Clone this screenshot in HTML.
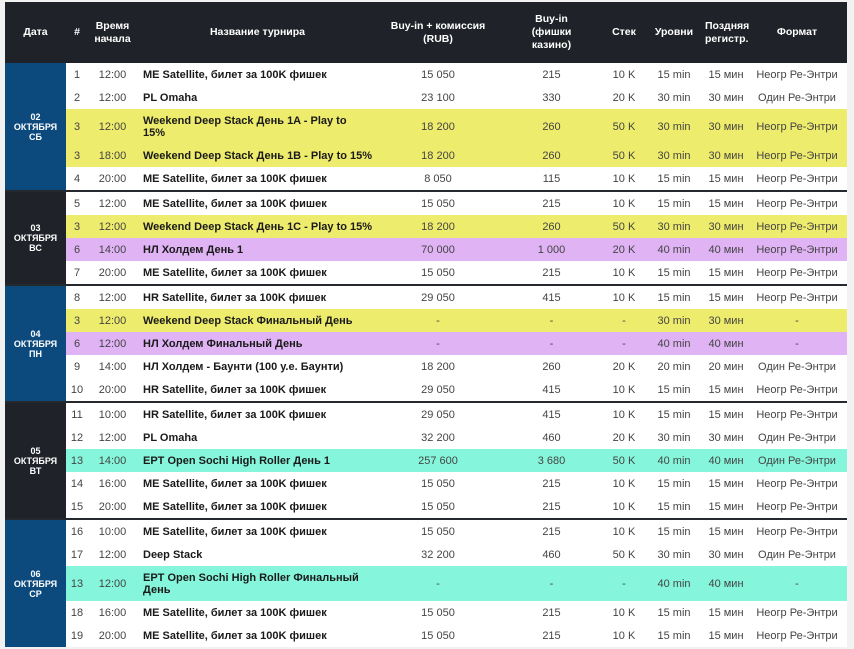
<!DOCTYPE html>
<html><head><meta charset="utf-8"><style>
html,body{margin:0;padding:0;background:#f2f2f2;width:854px;height:649px;overflow:hidden}
table{position:absolute;left:5px;top:2px;border-collapse:collapse;table-layout:fixed;width:842px;font-family:"Liberation Sans",sans-serif;font-size:11px;color:#444}
th{background:#1f2228;color:#fff;font-weight:bold;font-size:10.5px;height:61px;padding:0;line-height:13px;text-align:center}
td{padding:0;height:23px;text-align:center;background:#fff;white-space:nowrap}
tr.d td{height:35px}
td.n{text-align:left;padding-left:6px;color:#1a1a1a;font-weight:bold;white-space:normal;line-height:12px}
td.dt{color:#fff;font-weight:bold;font-size:9px;line-height:10px;background:#0c4a7d}
td.dk{background:#1f2228}
tr.y td{background:#eeec6c}
tr.p td{background:#e0b3f4}
tr.g td{background:#85f6dc}
tr.s td{border-top:2px solid #25282d}
</style></head><body>
<table>
<colgroup><col style="width:61px"><col style="width:22px"><col style="width:49px"><col style="width:241px"><col style="width:120px"><col style="width:107px"><col style="width:38px"><col style="width:62px"><col style="width:42px"><col style="width:100px"></colgroup>
<tr><th>Дата</th><th>#</th><th>Время<br>начала</th><th>Название турнира</th><th>Buy-in + комиссия<br>(RUB)</th><th>Buy-in<br>(фишки<br>казино)</th><th>Стек</th><th>Уровни</th><th>Поздняя<br>регистр.</th><th>Формат</th></tr>

<tr><td class="dt" rowspan="5">02<br>ОКТЯБРЯ<br>СБ</td><td>1</td><td>12:00</td><td class="n">ME Satellite, билет за 100K фишек</td><td>15 050</td><td>215</td><td>10 K</td><td>15 min</td><td>15 мин</td><td>Неогр Ре-Энтри</td></tr>
<tr><td>2</td><td>12:00</td><td class="n">PL Omaha</td><td>23 100</td><td>330</td><td>20 K</td><td>30 min</td><td>30 мин</td><td>Один Ре-Энтри</td></tr>
<tr class="y d"><td>3</td><td>12:00</td><td class="n">Weekend Deep Stack День 1A - Play to<br>15%</td><td>18 200</td><td>260</td><td>50 K</td><td>30 min</td><td>30 мин</td><td>Неогр Ре-Энтри</td></tr>
<tr class="y"><td>3</td><td>18:00</td><td class="n">Weekend Deep Stack День 1B - Play to 15%</td><td>18 200</td><td>260</td><td>50 K</td><td>30 min</td><td>30 мин</td><td>Неогр Ре-Энтри</td></tr>
<tr><td>4</td><td>20:00</td><td class="n">ME Satellite, билет за 100K фишек</td><td>8 050</td><td>115</td><td>10 K</td><td>15 min</td><td>15 мин</td><td>Неогр Ре-Энтри</td></tr>

<tr class="s"><td class="dt dk" rowspan="4">03<br>ОКТЯБРЯ<br>ВС</td><td>5</td><td>12:00</td><td class="n">ME Satellite, билет за 100K фишек</td><td>15 050</td><td>215</td><td>10 K</td><td>15 min</td><td>15 мин</td><td>Неогр Ре-Энтри</td></tr>
<tr class="y"><td>3</td><td>12:00</td><td class="n">Weekend Deep Stack День 1C - Play to 15%</td><td>18 200</td><td>260</td><td>50 K</td><td>30 min</td><td>30 мин</td><td>Неогр Ре-Энтри</td></tr>
<tr class="p"><td>6</td><td>14:00</td><td class="n">НЛ Холдем День 1</td><td>70 000</td><td>1 000</td><td>20 K</td><td>40 min</td><td>40 мин</td><td>Неогр Ре-Энтри</td></tr>
<tr><td>7</td><td>20:00</td><td class="n">ME Satellite, билет за 100K фишек</td><td>15 050</td><td>215</td><td>10 K</td><td>15 min</td><td>15 мин</td><td>Неогр Ре-Энтри</td></tr>

<tr class="s"><td class="dt" rowspan="5">04<br>ОКТЯБРЯ<br>ПН</td><td>8</td><td>12:00</td><td class="n">HR Satellite, билет за 100K фишек</td><td>29 050</td><td>415</td><td>10 K</td><td>15 min</td><td>15 мин</td><td>Неогр Ре-Энтри</td></tr>
<tr class="y"><td>3</td><td>12:00</td><td class="n">Weekend Deep Stack Финальный День</td><td>-</td><td>-</td><td>-</td><td>30 min</td><td>30 мин</td><td>-</td></tr>
<tr class="p"><td>6</td><td>12:00</td><td class="n">НЛ Холдем Финальный День</td><td>-</td><td>-</td><td>-</td><td>40 min</td><td>40 мин</td><td>-</td></tr>
<tr><td>9</td><td>14:00</td><td class="n">НЛ Холдем - Баунти (100 у.е. Баунти)</td><td>18 200</td><td>260</td><td>20 K</td><td>20 min</td><td>20 мин</td><td>Один Ре-Энтри</td></tr>
<tr><td>10</td><td>20:00</td><td class="n">HR Satellite, билет за 100K фишек</td><td>29 050</td><td>415</td><td>10 K</td><td>15 min</td><td>15 мин</td><td>Неогр Ре-Энтри</td></tr>

<tr class="s"><td class="dt dk" rowspan="5">05<br>ОКТЯБРЯ<br>ВТ</td><td>11</td><td>10:00</td><td class="n">HR Satellite, билет за 100K фишек</td><td>29 050</td><td>415</td><td>10 K</td><td>15 min</td><td>15 мин</td><td>Неогр Ре-Энтри</td></tr>
<tr><td>12</td><td>12:00</td><td class="n">PL Omaha</td><td>32 200</td><td>460</td><td>20 K</td><td>30 min</td><td>30 мин</td><td>Один Ре-Энтри</td></tr>
<tr class="g"><td>13</td><td>14:00</td><td class="n">EPT Open Sochi High Roller День 1</td><td>257 600</td><td>3 680</td><td>50 K</td><td>40 min</td><td>40 мин</td><td>Один Ре-Энтри</td></tr>
<tr><td>14</td><td>16:00</td><td class="n">ME Satellite, билет за 100K фишек</td><td>15 050</td><td>215</td><td>10 K</td><td>15 min</td><td>15 мин</td><td>Неогр Ре-Энтри</td></tr>
<tr><td>15</td><td>20:00</td><td class="n">ME Satellite, билет за 100K фишек</td><td>15 050</td><td>215</td><td>10 K</td><td>15 min</td><td>15 мин</td><td>Неогр Ре-Энтри</td></tr>

<tr class="s"><td class="dt" rowspan="5">06<br>ОКТЯБРЯ<br>СР</td><td>16</td><td>10:00</td><td class="n">ME Satellite, билет за 100K фишек</td><td>15 050</td><td>215</td><td>10 K</td><td>15 min</td><td>15 мин</td><td>Неогр Ре-Энтри</td></tr>
<tr><td>17</td><td>12:00</td><td class="n">Deep Stack</td><td>32 200</td><td>460</td><td>50 K</td><td>30 min</td><td>30 мин</td><td>Один Ре-Энтри</td></tr>
<tr class="g d"><td>13</td><td>12:00</td><td class="n">EPT Open Sochi High Roller Финальный<br>День</td><td>-</td><td>-</td><td>-</td><td>40 min</td><td>40 мин</td><td>-</td></tr>
<tr><td>18</td><td>16:00</td><td class="n">ME Satellite, билет за 100K фишек</td><td>15 050</td><td>215</td><td>10 K</td><td>15 min</td><td>15 мин</td><td>Неогр Ре-Энтри</td></tr>
<tr><td>19</td><td>20:00</td><td class="n">ME Satellite, билет за 100K фишек</td><td>15 050</td><td>215</td><td>10 K</td><td>15 min</td><td>15 мин</td><td>Неогр Ре-Энтри</td></tr>
</table>
</body></html>
